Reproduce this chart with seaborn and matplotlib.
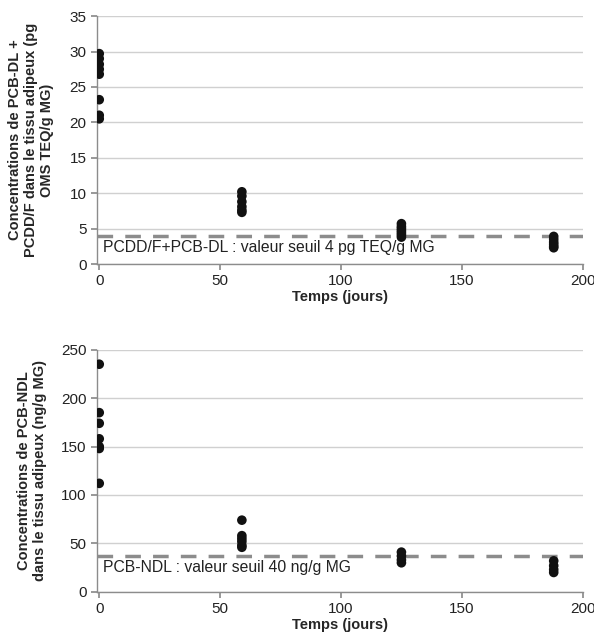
import matplotlib
matplotlib.use("Agg")
import matplotlib.pyplot as plt
import seaborn as sns
import pandas as pd

# Top panel data: PCB-DL + PCDD/F (pg OMS TEQ/g MG)
days_dl = [0]*8 + [59]*6 + [125]*7 + [188]*6
vals_dl = [29.7, 29.0, 28.2, 27.5, 26.8, 23.2, 21.0, 20.5,
           10.2, 9.6, 8.8, 8.1, 7.6, 7.3,
           5.7, 5.3, 5.0, 4.7, 4.4, 4.1, 3.8,
           3.9, 3.5, 3.1, 2.8, 2.5, 2.3]
seuil_dl = 4
label_dl = "PCDD/F+PCB-DL : valeur seuil 4 pg TEQ/g MG"

# Bottom panel data: PCB-NDL (ng/g MG)
days_ndl = [0]*7 + [59]*6 + [125]*4 + [188]*4
vals_ndl = [235, 185, 174, 158, 150, 148, 112,
            74, 58, 55, 52, 48, 46,
            41, 37, 33, 30,
            32, 27, 23, 20]
seuil_ndl = 37
label_ndl = "PCB-NDL : valeur seuil 40 ng/g MG"

ylabel_dl = "Concentrations de PCB-DL +\nPCDD/F dans le tissu adipeux (pg\nOMS TEQ/g MG)"
ylabel_ndl = "Concentrations de PCB-NDL\ndans le tissu adipeux (ng/g MG)"
xlabel = "Temps (jours)"

sns.set_theme(style="white")
plt.rcParams['font.family'] = ['Liberation Sans', 'DejaVu Sans']

fig = plt.figure(figsize=(5.94, 6.44), dpi=100)
ax1 = fig.add_axes([0.163, 0.590, 0.818, 0.385])
ax2 = fig.add_axes([0.163, 0.081, 0.818, 0.376])

def style(ax, days, vals, seuil, label, ylim, yticks, ylabel, lpad):
    df = pd.DataFrame({"t": days, "v": vals})
    ax.set_axisbelow(True)
    ax.grid(axis="y", color="#d0d0d0", linewidth=1)
    ax.axhline(seuil, color="#8c8c8c", linewidth=2.5, dashes=(4.5, 3.5), zorder=1)
    sns.scatterplot(data=df, x="t", y="v", ax=ax, color="#111111", s=48,
                    edgecolor="none", zorder=3, legend=False)
    ax.set_xlim(-1, 200)
    ax.set_ylim(*ylim)
    ax.set_xticks([0, 50, 100, 150, 200])
    ax.set_yticks(yticks)
    for s in ["top", "right"]:
        ax.spines[s].set_visible(False)
    for s in ["left", "bottom"]:
        ax.spines[s].set_color("#8c8c8c")
        ax.spines[s].set_linewidth(1)
    ax.tick_params(axis="both", which="both", direction="out", length=4,
                   color="#8c8c8c", labelsize=11, labelcolor="#222222",
                   left=True, bottom=True)
    ax.set_xlabel(xlabel, fontsize=10.5, fontweight="bold", labelpad=1)
    ax.set_ylabel(ylabel, fontsize=10.5, fontweight="bold", labelpad=lpad)
    ax.text(1.5, seuil - (ylim[1] - ylim[0]) * 0.018, label, fontsize=11.3,
            color="#222222", va="top", ha="left")

style(ax1, days_dl, vals_dl, seuil_dl, label_dl, (0, 35),
      [0, 5, 10, 15, 20, 25, 30, 35], ylabel_dl, 11)
style(ax2, days_ndl, vals_ndl, seuil_ndl, label_ndl, (0, 250),
      [0, 50, 100, 150, 200, 250], ylabel_ndl, 10)

fig.savefig("out.png", dpi=100)
